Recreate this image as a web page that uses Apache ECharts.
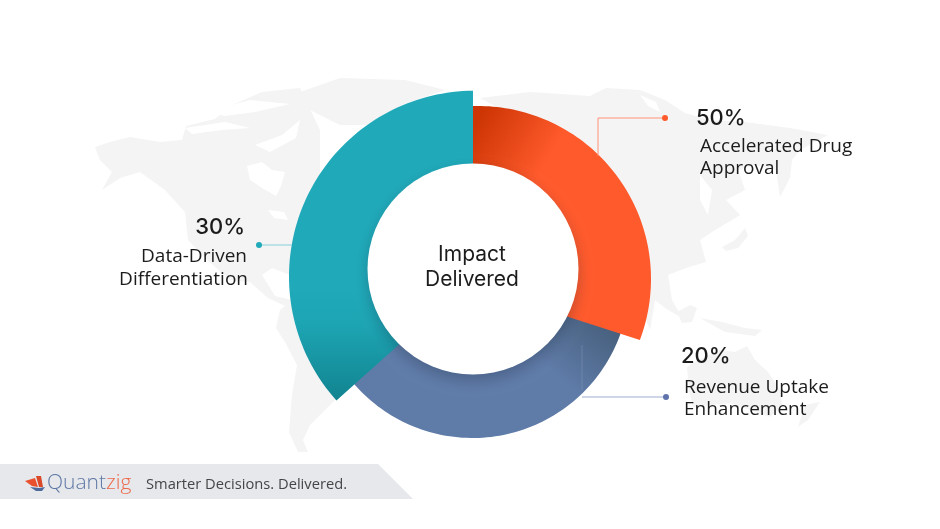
<!DOCTYPE html>
<html>
<head>
<meta charset="utf-8">
<style>html,body{margin:0;padding:0;background:#fff}#c{width:940px;height:529px}</style>
<script src="https://cdn.jsdelivr.net/npm/echarts@6/dist/echarts.min.js"></script>
</head>
<body>
<div id="c"></div>
<script>
// ---- data ----
var categories = [['Accelerated Drug','Approval'], ['Revenue Uptake','Enhancement'], ['Data-Driven','Differentiation']];
var shownPercent = ['50%','20%','30%'];
var sliceShares = [31.4, 31.4, 37.2];   // visual share of the ring
var centerLines = ['Impact','Delivered'];
var tagline = 'Smarter Decisions. Delivered.';

// ---- styling ----
var C = [473, 269], INNER = 105.5;
var outerCircles = [{o:[5,10],r:173},{o:[-0.4,12],r:157},{o:[1.8,7.5],r:185.8}];
var innerSkewStart = [0, 0, -0.47];
var innerSkewEnd = [1.08, 0, 0];
var layers = [2,1,3];
var G = echarts.graphic.LinearGradient;
var fills = [
  new G(478,118,548,160,[{offset:0,color:'#cd3504'},{offset:1,color:'#ff5a2c'}],true),
  new G(612,330,566,384,[{offset:0,color:'#48617f'},{offset:1,color:'#5f7ba8'}],true),
  new G(0,290,0,400,[{offset:0,color:'#1fa9b9'},{offset:0.3,color:'#1da5b4'},{offset:1,color:'#128490'}],true)
];
var mapShapes = [
  [[95,147],[110,142],[130,137],[160,142],[182,140],[186,126],[215,119],[232,105],[262,92],[300,88],[320,130],[320,240],[298,262],[290,275],[272,268],[262,275],[275,296],[292,300],[285,306],[268,298],[250,282],[230,280],[205,258],[188,240],[185,212],[165,190],[140,172],[120,178],[102,190],[112,172],[100,160]],
  [[280,310],[295,298],[330,310],[345,350],[335,400],[310,425],[303,440],[308,452],[298,452],[289,432],[292,395],[297,365],[285,342],[276,328]],
  [[300,92],[340,78],[405,80],[445,90],[410,102],[375,125],[340,125],[310,110]],
  [[480,98],[530,92],[590,96],[606,88],[640,90],[665,100],[685,113],[710,120],[745,122],[790,128],[828,135],[800,150],[792,160],[790,178],[780,197],[776,170],[755,165],[738,170],[745,190],[726,200],[740,215],[712,232],[700,240],[706,262],[686,268],[668,275],[672,300],[682,318],[665,308],[655,300],[650,330],[600,200],[520,120]],
  [[722,247],[735,240],[745,228],[748,236],[738,248],[726,251]],
  [[677,312],[690,305],[697,308],[692,322],[682,323]],
  [[700,318],[722,322],[745,328],[762,330],[755,336],[725,332]],
  [[687,367],[693,363],[720,350],[735,352],[747,346],[755,360],[768,372],[780,390],[782,405],[770,417],[750,410],[730,403],[710,405],[693,407],[689,390]],
  [[805,405],[820,402],[808,420],[798,427]]
];
var mapGaps = [
  [[247,166],[262,162],[272,170],[285,172],[281,186],[276,196],[262,188],[250,180]],
  [[185,128],[225,122],[250,128],[222,130],[192,134]],
  [[205,112],[250,100],[290,104],[255,112],[225,116]],
  [[255,145],[282,135],[300,120],[296,138],[270,152]],
  [[268,210],[284,212],[288,220],[274,218]],
  [[640,95],[656,102],[660,112],[648,106]],
  [[700,175],[712,190],[708,215],[700,200]]
];

function leader(points, color, dot, dotColor){
  return [
    {type:'polyline', z:60, silent:true, shape:{points:points}, style:{stroke:color, lineWidth:1, fill:null}},
    {type:'circle', z:60, silent:true, shape:{cx:dot[0], cy:dot[1], r:3}, style:{fill:dotColor}}
  ];
}
function txt(x,y,t,font,color,align){
  return {type:'text', z:70, silent:true, x:x, y:y, style:{text:t, font:font, fill:color, align:align||'left', verticalAlign:'middle'}};
}
var pctFont = '500 22px Inter, Lato, sans-serif';
var lblFont = '19px "Open Sans", sans-serif';
var ctrFont = '21px Inter, Lato, sans-serif';
var dark = '#1c1c1c';

var graphics = [];
mapShapes.forEach(function(p){ graphics.push({type:'polygon', z:-5, silent:true, shape:{points:p}, style:{fill:'#f4f4f5'}}); });
mapGaps.forEach(function(p){ graphics.push({type:'polygon', z:-4, silent:true, shape:{points:p}, style:{fill:'#fff'}}); });
graphics.push({type:'polygon', z:50, silent:true, shape:{points:[[0,464],[378,464],[413,499],[0,499]]}, style:{fill:'#e6e8ec'}});
graphics.push({type:'polygon', z:51, silent:true, shape:{points:[[25,481],[35,478],[38,487],[32,486]]}, style:{fill:'#e8502e'}});
graphics.push({type:'polygon', z:51, silent:true, shape:{points:[[36,476],[41,476],[43,487],[39,487]]}, style:{fill:'#d9492a'}});
graphics.push({type:'polygon', z:51, silent:true, shape:{points:[[30,487],[39,488],[45,487],[42,491],[36,491]]}, style:{fill:'#4d6a9c'}});
graphics.push({type:'text', z:70, silent:true, x:47, y:483, style:{
  text:'{a|Quant}{b|zig}', verticalAlign:'middle',
  rich:{a:{font:'300 21px "Open Sans", sans-serif', fill:'#5f78a5'}, b:{font:'300 21px "Open Sans", sans-serif', fill:'#ec6a4c'}}
}});
graphics.push(txt(146,485,tagline,'14.7px "Open Sans", sans-serif','#454545'));
// white hole of the ring, its soft shadow falls on the lower slices
graphics.push({type:'circle', z:40, silent:true, shape:{cx:C[0], cy:C[1], r:INNER},
  style:{fill:'#fff', shadowBlur:14, shadowColor:'rgba(20,30,50,0.26)', shadowOffsetY:6}});
graphics = graphics.concat(
  leader([[662,118],[598,118],[598,156]],'#ff9279',[665,118],'#ff5a2c'),
  leader([[663,397],[582,397]],'#9dabcd',[666,397],'#5f72ab'),
  leader([[262,245],[292,245]],'#86cfd8',[259,245],'#1fa9b9')
);
graphics.push({type:'line', z:60, silent:true, shape:{x1:582,y1:345,x2:582,y2:390}, style:{stroke:'rgba(157,171,205,0.3)', lineWidth:1}});
graphics.push(txt(C[0]-1,255,centerLines[0],ctrFont,dark,'center'));
graphics.push(txt(C[0]-1,280,centerLines[1],ctrFont,dark,'center'));
graphics.push(txt(696,118,shownPercent[0],pctFont,dark));
graphics.push(txt(700,147,categories[0][0],lblFont,dark));
graphics.push(txt(700,169,categories[0][1],lblFont,dark));
graphics.push(txt(681,356,shownPercent[1],pctFont,dark));
graphics.push(txt(684,388,categories[1][0],lblFont,dark));
graphics.push(txt(684,410,categories[1][1],lblFont,dark));
graphics.push(txt(245,227,shownPercent[2],pctFont,dark,'right'));
graphics.push(txt(247,257,categories[2][0],lblFont,dark,'right'));
graphics.push(txt(248,280,categories[2][1],lblFont,dark,'right'));

var cumulative = [];
sliceShares.reduce(function(s,v,i){ cumulative[i]=s; return s+v; },0);

function renderSlice(params, api){
  var i = params.dataIndex, t0 = cumulative[i], t1 = t0 + api.value(0);
  var oc = outerCircles[i], pts = [], n = 80, k;
  for (k=0;k<=n;k++){
    var t = t0+(t1-t0)*k/n, th = t/100*2*Math.PI;
    var dx = Math.sin(th), dy = -Math.cos(th);
    var b = dx*oc.o[0]+dy*oc.o[1];
    var s = b+Math.sqrt(b*b-oc.o[0]*oc.o[0]-oc.o[1]*oc.o[1]+oc.r*oc.r);
    pts.push(api.coord([s,t]));
  }
  var a0 = t0+innerSkewStart[i], a1 = t1+innerSkewEnd[i];
  for (k=n;k>=0;k--){
    pts.push(api.coord([INNER-1, a0+(a1-a0)*k/n]));
  }
  return {type:'polygon', z2:layers[i], shape:{points:pts}, style:{fill:fills[i]}};
}

var chart = echarts.init(document.getElementById('c'), null, {renderer:'canvas'});
chart.setOption({
  animation:false,
  backgroundColor:'#fff',
  polar:{center:C, radius:200},
  radiusAxis:{show:false, type:'value', min:0, max:200},
  angleAxis:{show:false, type:'value', min:0, max:100, startAngle:90, clockwise:true},
  graphic:graphics,
  series:[{
    type:'custom', coordinateSystem:'polar', silent:true, z:10,
    data:sliceShares.map(function(v,i){ return {name:categories[i].join(' '), value:[v, 150]}; }),
    encode:{angle:0, radius:1},
    renderItem:renderSlice
  }]
});
</script>
</body>
</html>
